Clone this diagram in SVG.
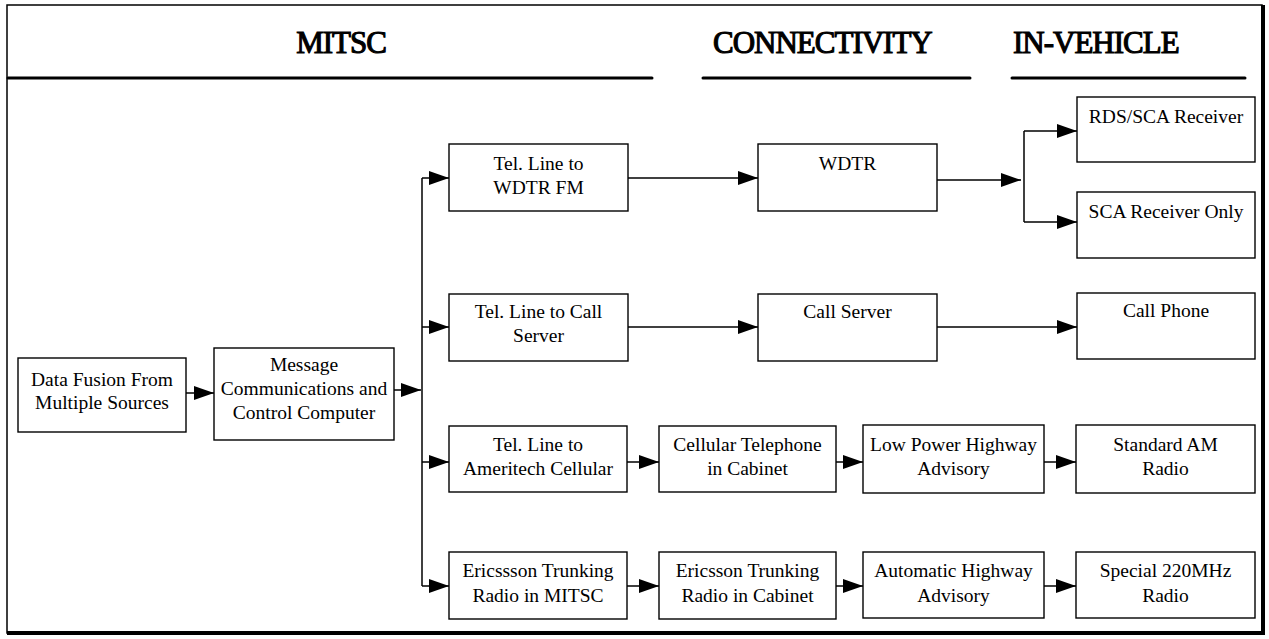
<svg xmlns="http://www.w3.org/2000/svg" width="1269" height="639" viewBox="0 0 1269 639">
  <defs>
    <marker id="arrow" markerUnits="userSpaceOnUse" markerWidth="20" markerHeight="14" refX="20" refY="7" orient="auto">
      <path d="M0,0 L20,7 L0,14 Z" fill="#000"/>
    </marker>
    <style>
      .box { fill: #fff; stroke: #000; stroke-width: 1.4; }
      .lbl { font-family: "Liberation Serif", "Times New Roman", serif; font-size: 19.5px; fill: #000; text-anchor: middle; }
      .hdr { font-family: "Liberation Serif", "Times New Roman", serif; font-size: 31px; font-weight: normal; fill: #000; stroke: #000; stroke-width: 1.1px; letter-spacing: -1px; }
      .rule { stroke: #000; stroke-width: 3; stroke-linecap: round; }
      .conn path { fill: none; stroke: #000; stroke-width: 1.5; }
      .conn path.arr { marker-end: url(#arrow); }
    </style>
  </defs>

  <rect width="1269" height="639" fill="#fff"/>

  <!-- outer frame with heavy right and bottom edges -->
  <g id="frame">
    <rect x="7" y="5" width="1255" height="628" fill="none" stroke="#000" stroke-width="1.5"/>
    <line x1="1263" y1="5" x2="1263" y2="635" stroke="#000" stroke-width="4"/>
    <line x1="7" y1="633" x2="1265" y2="633" stroke="#000" stroke-width="4"/>
  </g>

  <!-- column headings -->
  <g id="headings">
    <text class="hdr" x="341" y="53" text-anchor="middle">MITSC</text>
    <line class="rule" x1="8" y1="78" x2="652" y2="78"/>
    <text class="hdr" x="713" y="53">CONNECTIVITY</text>
    <line class="rule" x1="703" y1="78" x2="970" y2="78"/>
    <text class="hdr" x="1013" y="53">IN-VEHICLE</text>
    <line class="rule" x1="1012" y1="78" x2="1245" y2="78"/>
  </g>

  <!-- connectors -->
  <g id="connectors" class="conn">
    <path class="arr" d="M186,393 H214"/>
    <path class="arr" d="M394,390 H421"/>
    <path d="M422,178 V586"/>
    <path class="arr" d="M422,178 H449"/>
    <path class="arr" d="M422,327 H449"/>
    <path class="arr" d="M422,462 H449"/>
    <path class="arr" d="M422,586 H449"/>
    <path class="arr" d="M628,178 H758"/>
    <path class="arr" d="M628,327 H758"/>
    <path class="arr" d="M627,462 H659"/>
    <path class="arr" d="M627,586 H659"/>
    <path class="arr" d="M836,462 H863"/>
    <path class="arr" d="M836,586 H863"/>
    <path class="arr" d="M1044,462 H1076"/>
    <path class="arr" d="M1044,586 H1076"/>
    <path class="arr" d="M937,180 H1021"/>
    <path d="M1024,131 V222"/>
    <path class="arr" d="M1024,131 H1077"/>
    <path class="arr" d="M1024,222 H1077"/>
    <path class="arr" d="M937,327 H1077"/>
  </g>

  <!-- MITSC column -->
  <g id="data-fusion">
    <rect class="box" x="18" y="358" width="168" height="74"/>
    <text class="lbl" x="102" y="386">Data Fusion From</text>
    <text class="lbl" x="102" y="409">Multiple Sources</text>
  </g>
  <g id="message-computer">
    <rect class="box" x="214" y="348" width="180" height="92"/>
    <text class="lbl" x="304" y="371">Message</text>
    <text class="lbl" x="304" y="395">Communications and</text>
    <text class="lbl" x="304" y="419">Control Computer</text>
  </g>
  <g id="tel-line-wdtr">
    <rect class="box" x="449" y="144" width="179" height="67"/>
    <text class="lbl" x="538.5" y="170">Tel. Line to</text>
    <text class="lbl" x="538.5" y="194">WDTR FM</text>
  </g>
  <g id="tel-line-call">
    <rect class="box" x="449" y="294" width="179" height="67"/>
    <text class="lbl" x="538.5" y="318">Tel. Line to Call</text>
    <text class="lbl" x="538.5" y="342">Server</text>
  </g>
  <g id="tel-line-ameritech">
    <rect class="box" x="449" y="426" width="178" height="66"/>
    <text class="lbl" x="538" y="451">Tel. Line to</text>
    <text class="lbl" x="538" y="475">Ameritech Cellular</text>
  </g>
  <g id="ericsson-mitsc">
    <rect class="box" x="449" y="552" width="178" height="67"/>
    <text class="lbl" x="538" y="577">Ericssson Trunking</text>
    <text class="lbl" x="538" y="602">Radio in MITSC</text>
  </g>

  <!-- connectivity column -->
  <g id="wdtr">
    <rect class="box" x="758" y="144" width="179" height="67"/>
    <text class="lbl" x="847.5" y="170">WDTR</text>
  </g>
  <g id="call-server">
    <rect class="box" x="758" y="294" width="179" height="67"/>
    <text class="lbl" x="847.5" y="318">Call Server</text>
  </g>
  <g id="cellular-cabinet">
    <rect class="box" x="659" y="426" width="177" height="66"/>
    <text class="lbl" x="747.5" y="451">Cellular Telephone</text>
    <text class="lbl" x="747.5" y="475">in Cabinet</text>
  </g>
  <g id="ericsson-cabinet">
    <rect class="box" x="659" y="552" width="177" height="67"/>
    <text class="lbl" x="747.5" y="577">Ericsson Trunking</text>
    <text class="lbl" x="747.5" y="602">Radio in Cabinet</text>
  </g>
  <g id="low-power-har">
    <rect class="box" x="863" y="425" width="181" height="68"/>
    <text class="lbl" x="953.5" y="451">Low Power Highway</text>
    <text class="lbl" x="953.5" y="475">Advisory</text>
  </g>
  <g id="automatic-har">
    <rect class="box" x="863" y="552" width="181" height="66"/>
    <text class="lbl" x="953.5" y="577">Automatic Highway</text>
    <text class="lbl" x="953.5" y="602">Advisory</text>
  </g>

  <!-- in-vehicle column -->
  <g id="rds-sca-receiver">
    <rect class="box" x="1077" y="97" width="178" height="65"/>
    <text class="lbl" x="1166" y="123">RDS/SCA Receiver</text>
  </g>
  <g id="sca-receiver">
    <rect class="box" x="1077" y="192" width="178" height="66"/>
    <text class="lbl" x="1166" y="218">SCA Receiver Only</text>
  </g>
  <g id="call-phone">
    <rect class="box" x="1077" y="293" width="178" height="66"/>
    <text class="lbl" x="1166" y="317">Call Phone</text>
  </g>
  <g id="standard-am">
    <rect class="box" x="1076" y="425" width="179" height="68"/>
    <text class="lbl" x="1165.5" y="451">Standard AM</text>
    <text class="lbl" x="1165.5" y="475">Radio</text>
  </g>
  <g id="special-220">
    <rect class="box" x="1076" y="552" width="179" height="66"/>
    <text class="lbl" x="1165.5" y="577">Special 220MHz</text>
    <text class="lbl" x="1165.5" y="602">Radio</text>
  </g>
</svg>
